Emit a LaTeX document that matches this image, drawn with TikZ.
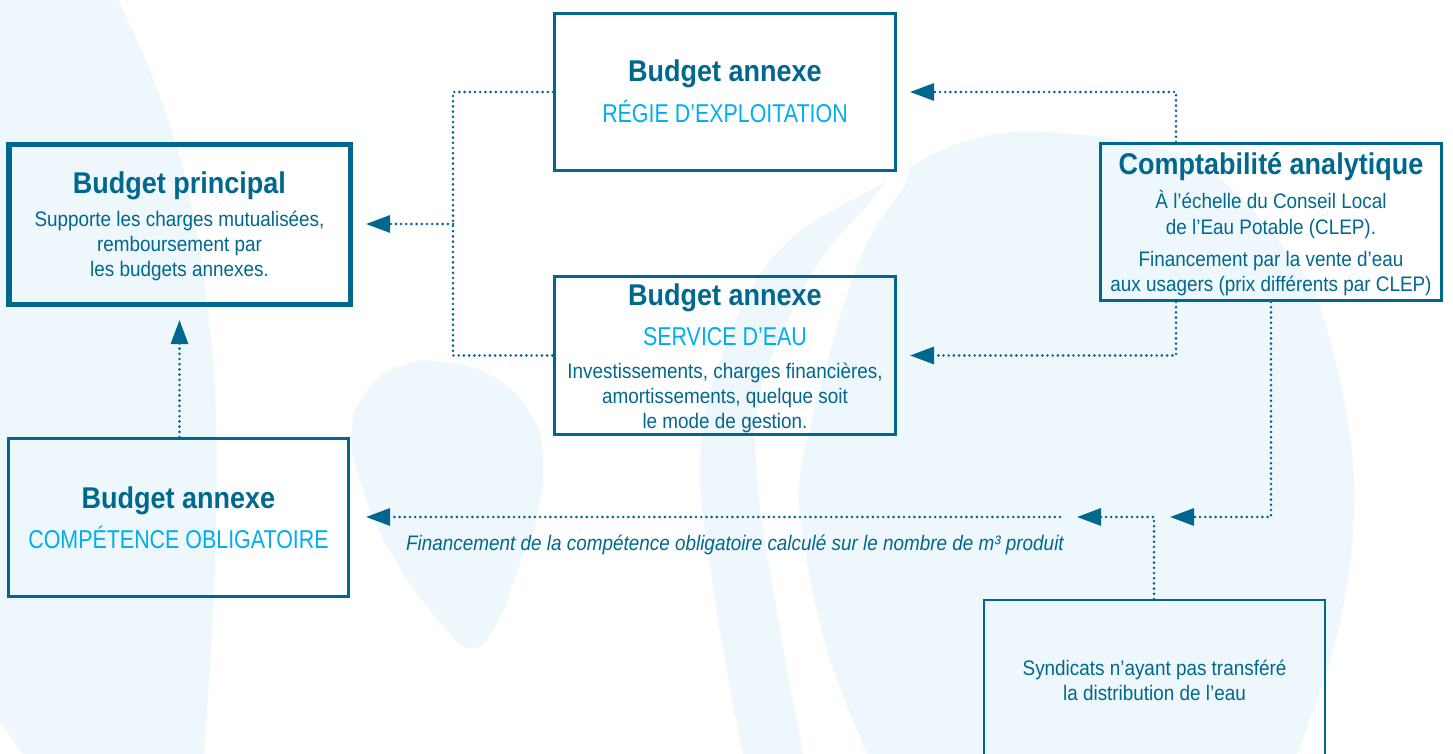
\documentclass[tikz,border=0pt]{standalone}
\usepackage{fontspec}
\setmainfont{Liberation Sans}[FakeStretch=0.9]
\newfontfamily\cyanfam{Liberation Sans}[FakeStretch=0.83]
\usetikzlibrary{arrows.meta}
\definecolor{dblue}{RGB}{0,104,142}
\definecolor{cyanc}{RGB}{0,174,239}
\definecolor{bgc}{RGB}{238,247,251}
\newcommand{\ttlf}{\fontsize{30}{36}\selectfont\bfseries}
\newcommand{\bdyf}{\fontsize{21}{25}\selectfont}
\newcommand{\cyf}{\cyanfam\fontsize{25.8}{30}\selectfont}
\newcommand{\itlf}{\fontsize{21}{25}\selectfont\itshape}
\begin{document}
\begin{tikzpicture}[x=1pt,y=-1pt,
  boxn/.style={draw=dblue, line width=2.7pt, minimum width=341.3pt, minimum height=157.3pt, inner sep=0pt, outer sep=1.35pt},
  bpbox/.style={draw=dblue, line width=5.5pt, minimum width=341.5pt, minimum height=159.5pt, inner sep=0pt, outer sep=2.75pt},
  syndbox/.style={draw=dblue, line width=1.7pt, minimum width=341.3pt, minimum height=160.3pt, inner sep=0pt, outer sep=0.85pt},
  txt/.style={anchor=base, inner sep=0pt, outer sep=0pt},
  ttl/.style={txt, text=dblue, font=\ttlf},
  bdy/.style={txt, text=dblue, font=\bdyf},
  cyt/.style={txt, text=cyanc, font=\cyf},
  lbl/.style={txt, text=dblue, font=\itlf},
  dotl/.style={draw=dblue, line width=2.9pt, line cap=round, dash pattern=on 0pt off 5.2pt},
  arr/.style={dotl, -{Triangle[length=24pt,width=17pt]}}
]
\useasboundingbox (0,0) rectangle (1453,754);
\clip (0,0) rectangle (1453,754);
\fill[white] (0,0) rectangle (1453,754);
% background shapes
\fill[bgc] (0,0) -- plot[smooth, tension=0.7] coordinates {(118,0) (176,144) (210,330) (216,529) (204,754)} -- (23,754) -- (0,721) -- cycle;
\fill[bgc] plot[smooth cycle, tension=0.8] coordinates {(440,362) (490,375) (530,413) (543,457) (537,517) (520,563) (497,623) (473,648) (447,630) (397,563) (363,490) (352,430) (370,387) (403,365)};
\fill[bgc] plot[smooth, tension=0.6] coordinates {(743,754) (717,612) (700,458) (728,340) (783,246) (883,183) (960,143) (1046,132) (1190,159) (1290,255) (1329,337) (1354,481) (1340,623) (1297,754)} -- cycle;
\fill[white] plot[smooth, tension=0.6] coordinates {(803,754) (777,612) (757,477) (763,381) (817,266) (872,200) (893,172)} .. controls (902,158) and (915,165) .. (905,185) -- plot[smooth, tension=0.6] coordinates {(880,220) (850,285) (803,458) (803,535) (827,651) (867,754)} -- cycle;
% boxes
\node[bpbox] (bp) at (179.5,224.5) {};
\node[boxn] (regie) at (725,92) {};
\node[boxn, minimum height=158.3pt] (service) at (725,355.5) {};
\node[boxn, minimum width=340.3pt, minimum height=158.3pt] (comp) at (178.5,517.5) {};
\node[boxn] (compta) at (1271,222) {};
\node[syndbox] (synd) at (1154.5,680) {};
% junction coordinates
\coordinate (bx) at (453,224);
\coordinate (rj) at (1176,92);
\coordinate (jn) at (1154,517);
\coordinate (lend) at (1060,517);
% connectors
\draw[dotl] (regie.west) -| (bx) |- (service.west);
\draw[arr, shorten >=13pt] (bx) -- (bx -| bp.east);
\draw[arr, shorten >=13pt] (comp.north -| bp.south) -- (bp.south);
\draw[arr, shorten >=13pt] (compta.north -| rj) |- (regie.east);
\draw[arr, shorten >=13pt] (compta.south -| rj) |- (service.east);
\draw[arr, shorten >=16pt] (compta.south) |- (jn);
\draw[arr, shorten >=17pt] (synd.north -| jn) |- (lend);
\draw[arr, shorten >=16pt] (lend) -- (lend -| comp.east);
% texts
\node[ttl] (bpT) at (179.5,193.3) {Budget principal};
\node[bdy] (bp1) at (179.5,226.7) {Supporte les charges mutualisées,};
\node[bdy] (bp2) at (179.5,251.7) {remboursement par};
\node[bdy] (bp3) at (179.5,276.7) {les budgets annexes.};
\node[ttl] (reT) at (725,82) {Budget annexe};
\node[cyt] (reC) at (725,122.5) {RÉGIE D’EXPLOITATION};
\node[ttl] (seT) at (725,305) {Budget annexe};
\node[cyt] (seC) at (725,345) {SERVICE D’EAU};
\node[bdy] (se1) at (725,378.3) {Investissements, charges financières,};
\node[bdy] (se2) at (725,403.3) {amortissements, quelque soit};
\node[bdy] (se3) at (725,428.3) {le mode de gestion.};
\node[ttl] (coT) at (178.5,508) {Budget annexe};
\node[cyt] (coC) at (178.5,548.5) {COMPÉTENCE OBLIGATOIRE};
\node[ttl] (caT) at (1271,175) {Comptabilité analytique};
\node[bdy] (ca1) at (1271,208.3) {À l’échelle du Conseil Local};
\node[bdy] (ca2) at (1271,234.3) {de l’Eau Potable (CLEP).};
\node[bdy] (ca3) at (1271,266.7) {Financement par la vente d’eau};
\node[bdy] (ca4) at (1271,291.7) {aux usagers (prix différents par CLEP)};
\node[bdy] (sy1) at (1154.5,675) {Syndicats n’ayant pas transféré};
\node[bdy] (sy2) at (1154.5,700) {la distribution de l’eau};
\node[lbl] (flbl) at (735,550.7) {Financement de la compétence obligatoire calculé sur le nombre de m³ produit};
\end{tikzpicture}
\end{document}
